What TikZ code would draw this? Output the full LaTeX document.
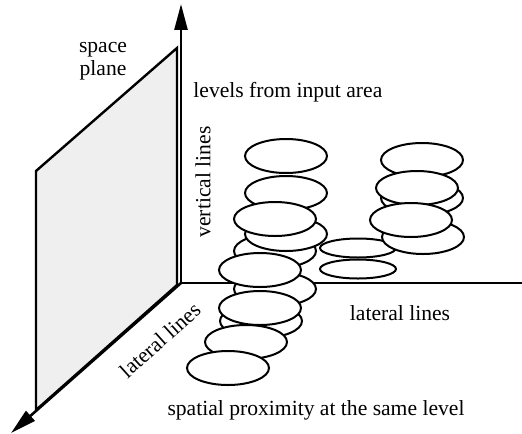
\documentclass[tikz,border=0pt]{standalone}
\usepackage{fontspec}
\setmainfont{Liberation Serif}
\usetikzlibrary{shapes.geometric, arrows.meta}
\usepackage{xcolor}
\definecolor{PlaneFill}{HTML}{EFEFEF}

\begin{document}
\begin{tikzpicture}[x=0.5pt, y=-0.5pt,
            disc/.style={ellipse, draw=black, line width=1pt, fill=white, minimum width=41pt, minimum height=17pt, inner sep=0pt},
            flatdisc/.style={ellipse, draw=black, line width=1pt, fill=white, minimum width=38pt, minimum height=9.5pt, inner sep=0pt},
            axis/.style={line width=1.3pt, -{Triangle[length=13pt, width=6.5pt]}},
            lbl/.style={font=\fontsize{10.8}{11.5}\selectfont, align=center, inner sep=1pt}
        ]
            \useasboundingbox (0,0) rectangle (522,433);

            % Space plane
            \draw[line width=1.2pt, fill=PlaneFill, line join=miter] (36,171) -- (177,48) -- (177,285) -- (36,410) -- cycle;

            % Axes
            \coordinate (origin) at (181,283);
            \coordinate (vtip) at (181,4);
            \coordinate (htip) at (522,283);
            \coordinate (ltip) at (11,433);
            \draw[axis] (origin) -- (vtip);
            \draw[line width=1.3pt] (origin) -- (htip);
            \draw[axis] (origin) -- (ltip);

            % Flat pair in the middle
            \node[flatdisc] (m1) at (358,248) {};
            \node[flatdisc] (m2) at (358,269) {};

            % Left stack
            \node[disc] (l1) at (261,321) {};
            \node[disc] (l2) at (275,289) {};
            \node[disc] (l3) at (275,251) {};
            \node[disc] (l4) at (286,156) {};
            \node[disc] (l5) at (286,193) {};
            \node[disc] (l6) at (286,234) {};
            \node[disc] (l7) at (275,219) {};
            \node[disc] (l8) at (260,270) {};
            \node[disc] (l9) at (260,308) {};
            \node[disc] (l10) at (246,342) {};
            \node[disc] (l11) at (228,368) {};

            % Right stack
            \node[disc] (r1) at (422,160) {};
            \node[disc] (r2) at (422,198) {};
            \node[disc] (r3) at (417,188) {};
            \node[disc] (r4) at (423,237) {};
            \node[disc] (r5) at (411,220) {};

            % Labels
            \node[lbl] (planelbl) at (103,61) {space\\plane};
            \node[lbl, anchor=west] (levels) at (191,92) {levels from input area};
            \node[lbl, rotate=90] (vert) at (203,182) {vertical lines};
            \node[lbl] (lathor) at (400,313) {lateral lines};
            \node[lbl, rotate=42] (latdiag) at (160,340) {lateral lines};
            \node[lbl] (prox) at (316,410) {spatial proximity at the same level};
        \end{tikzpicture}
\end{document}
